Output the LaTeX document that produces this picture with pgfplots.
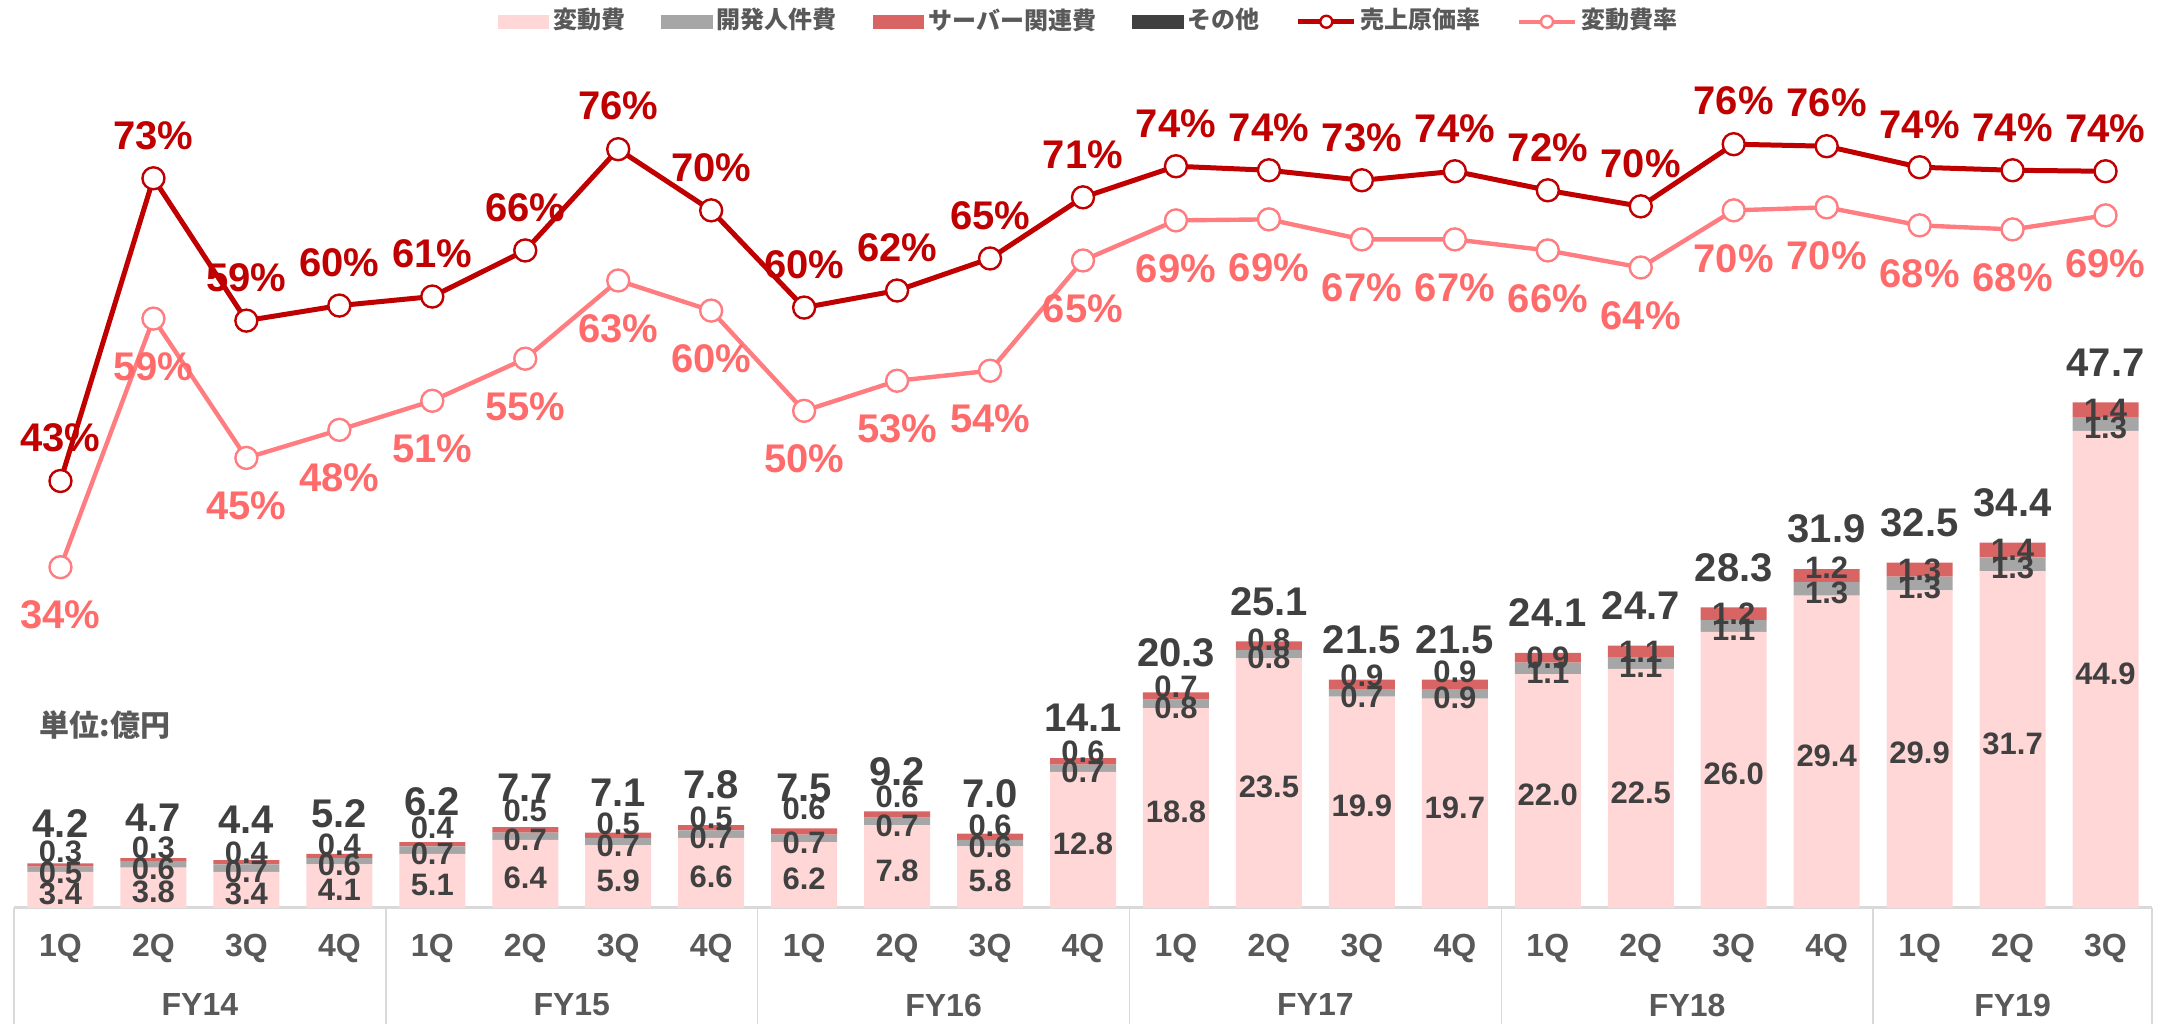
\documentclass[border=0pt]{standalone}
\usepackage{fontspec}
\setmainfont{Liberation Sans}
\newfontfamily\cjk{Noto Sans CJK JP}
\usepackage{pgfplots}
\usepackage{pgfplotstable}
\pgfplotsset{compat=1.18}
\definecolor{cVar}{HTML}{FFD7D7}
\definecolor{cDev}{HTML}{A6A6A6}
\definecolor{cSrv}{HTML}{D96464}
\definecolor{cOth}{HTML}{404040}
\definecolor{cCR}{HTML}{C00000}
\definecolor{cVR}{HTML}{FF7C80}
\definecolor{cVRt}{HTML}{FF6B6B}
\definecolor{cTxt}{HTML}{404040}
\definecolor{cTick}{HTML}{595959}
\definecolor{cGrid}{HTML}{D9D9D9}

% v: 変動費, d: 開発人件費, s: サーバー関連費, o: その他, t: total label, so: label offset (pt) of the s label
\pgfplotstableread{
x v d s o t so
0 3.4 0.5 0.3 0.0 4.2 3.2
1 3.8 0.6 0.3 0.0 4.7 2.9
2 3.4 0.7 0.4 0.0 4.4 2.25
3 4.1 0.6 0.4 0.0 5.2 2.75
4 5.1 0.7 0.4 0.0 6.2 4.0
5 6.4 0.7 0.5 0.0 7.7 4.75
6 5.9 0.7 0.5 0.0 7.1 2.9
7 6.6 0.7 0.5 0.0 7.8 2.5
8 6.2 0.7 0.6 0.0 7.5 5.75
9 7.8 0.7 0.6 0.0 9.2 4.5
10 5.8 0.6 0.6 0.0 7.0 2.75
11 12.8 0.7 0.6 0.0 14.1 2.5
12 18.8 0.8 0.7 0.0 20.3 2.25
13 23.5 0.8 0.8 0.0 25.1 1.5
14 19.9 0.7 0.9 0.0 21.5 2.25
15 19.7 0.9 0.9 0.0 21.5 3.25
16 22.0 1.1 0.9 0.0 24.1 0
17 22.5 1.1 1.1 0.0 24.7 0
18 26.0 1.1 1.2 0.0 28.3 0
19 29.4 1.3 1.2 0.0 31.9 2
20 29.9 1.3 1.3 0.0 32.5 0
21 31.7 1.3 1.4 0.0 34.4 0
22 44.9 1.3 1.4 0.0 47.7 0
}\bars
\pgfplotstablecreatecol[create col/expr={\thisrow{v}/2-0.38}]{mv}\bars
\pgfplotstablecreatecol[create col/expr={\thisrow{v}+\thisrow{d}/2-0.38}]{md}\bars
\pgfplotstablecreatecol[create col/expr={\thisrow{v}+\thisrow{d}+\thisrow{s}/2+\thisrow{so}/2.655}]{ms}\bars
\pgfplotstablecreatecol[create col/expr={\thisrow{v}+\thisrow{d}+\thisrow{s}+\thisrow{o}}]{top}\bars

\pgfplotstableread{
x cr vr
0 42.6 34.0
1 72.8 58.8
2 58.6 44.9
3 60.1 47.7
4 61.0 50.6
5 65.6 54.8
6 75.7 62.6
7 69.6 59.6
8 59.9 49.6
9 61.6 52.6
10 64.8 53.6
11 70.9 64.6
12 74.0 68.6
13 73.6 68.7
14 72.6 66.7
15 73.5 66.7
16 71.6 65.6
17 70.0 63.9
18 76.2 69.6
19 76.0 69.9
20 73.9 68.1
21 73.6 67.7
22 73.5 69.1
}\rates

\pgfplotsset{
  base/.style={width=534.5pt,height=217pt,scale only axis,at={(3.5pt,29pt)},anchor=south west,
    xmin=-0.5,xmax=22.5,clip=false,/pgf/number format/assume math mode=true},
  lineleg/.style={legend image code/.code={\draw[mark repeat=2,mark phase=2,##1,mark size=1.5pt] plot coordinates {(0pt,0pt) (7pt,0pt) (14pt,0pt)};}},
  inlab/.style={draw=none, mark=none, nodes near coords,
    nodes near coords style={anchor=center, font=\bfseries\fontsize{7.75}{9}\selectfont, text=cTxt}},
}

\begin{document}
\begin{tikzpicture}
\path[use as bounding box] (0,0) rectangle (542.5pt,256pt);

% bars
\begin{axis}[base, ybar stacked, bar width=16.5pt, ymin=0, ymax=81.7,
  axis line style={draw=none}, ytick=\empty, xtick={0,...,22},
  xticklabels={1Q,2Q,3Q,4Q,1Q,2Q,3Q,4Q,1Q,2Q,3Q,4Q,1Q,2Q,3Q,4Q,1Q,2Q,3Q,4Q,1Q,2Q,3Q},
  major tick length=0pt,
  xticklabel style={font=\bfseries\fontsize{8}{9}\selectfont, text=cTick, anchor=center, yshift=-10pt}]
\addplot[fill=cVar, draw=none] table[x=x,y=v]{\bars};
\addplot[fill=cDev, draw=none] table[x=x,y=d]{\bars};
\addplot[fill=cSrv, draw=none] table[x=x,y=s]{\bars};
\addplot[fill=cOth, draw=none] table[x=x,y=o]{\bars};
\draw[cGrid, line width=0.75pt] (axis cs:-0.5,0) -- (axis cs:22.5,0);
\pgfplotsinvokeforeach{-0.5,3.5,7.5,11.5,15.5,19.5,22.5}{
  \draw[cGrid, line width=0.4pt] (axis cs:#1,0) -- ([yshift=-29pt]axis cs:#1,0);
}
\node[font=\bfseries\fontsize{8}{9}\selectfont, text=cTick, yshift=-24.25pt] at (axis cs:1.5,0) {FY14};
\node[font=\bfseries\fontsize{8}{9}\selectfont, text=cTick, yshift=-24.25pt] at (axis cs:5.5,0) {FY15};
\node[font=\bfseries\fontsize{8}{9}\selectfont, text=cTick, yshift=-24.25pt] at (axis cs:9.5,0) {FY16};
\node[font=\bfseries\fontsize{8}{9}\selectfont, text=cTick, yshift=-24.25pt] at (axis cs:13.5,0) {FY17};
\node[font=\bfseries\fontsize{8}{9}\selectfont, text=cTick, yshift=-24.25pt] at (axis cs:17.5,0) {FY18};
\node[font=\bfseries\fontsize{8}{9}\selectfont, text=cTick, yshift=-24.25pt] at (axis cs:21,0) {FY19};
\end{axis}

% bar value labels
\begin{axis}[base, ymin=0, ymax=81.7, hide axis, point meta=explicit,
  /pgf/number format/fixed, /pgf/number format/fixed zerofill, /pgf/number format/precision=1]
\addplot[inlab] table[x=x,y=mv,meta=v]{\bars};
\addplot[inlab] table[x=x,y=md,meta=d]{\bars};
\addplot[inlab] table[x=x,y=ms,meta=s]{\bars};
\addplot[draw=none, mark=none, nodes near coords,
  nodes near coords style={anchor=center, yshift=10pt, font=\bfseries\fontsize{10}{12}\selectfont, text=cTxt}]
  table[x=x,y=top,meta=t]{\bars};
\end{axis}

% rate lines
\begin{axis}[base, ymin=0, ymax=86.6, hide axis,
  legend style={at={(0.503,1.021)}, anchor=center, draw=none, fill=none,
    font=\cjk\bfseries\fontsize{6}{7}\selectfont, text=cTick,
    /tikz/every even column/.append style={column sep=8pt}, nodes={inner sep=1pt}},
  legend columns=6, legend cell align=left]
\addlegendimage{legend image code/.code={\fill[cVar] (0pt,-1.6pt) rectangle (12.5pt,1.6pt);}}
\addlegendentry{変動費}
\addlegendimage{legend image code/.code={\fill[cDev] (0pt,-1.6pt) rectangle (12.5pt,1.6pt);}}
\addlegendentry{開発人件費}
\addlegendimage{legend image code/.code={\fill[cSrv] (0pt,-1.6pt) rectangle (12.5pt,1.6pt);}}
\addlegendentry{サーバー関連費}
\addlegendimage{legend image code/.code={\fill[cOth] (0pt,-1.6pt) rectangle (12.5pt,1.6pt);}}
\addlegendentry{その他}
\addplot[lineleg, cCR, line width=1.25pt, mark=*, mark size=2.75pt,
  mark options={fill=white, draw=cCR, line width=0.6pt},
  point meta=y,
  nodes near coords={\pgfmathprintnumber[fixed,precision=0]{\pgfplotspointmeta}\%},
  nodes near coords style={anchor=center, yshift=10.75pt, font=\bfseries\fontsize{10}{12}\selectfont, text=cCR}]
  table[x=x,y=cr]{\rates};
\addlegendentry{売上原価率}
\addplot[lineleg, cVR, line width=1.1pt, mark=*, mark size=2.75pt,
  mark options={fill=white, draw=cVR, line width=0.6pt},
  point meta=y,
  nodes near coords={\pgfmathprintnumber[fixed,precision=0]{\pgfplotspointmeta}\%},
  nodes near coords style={anchor=center, yshift=-12pt, font=\bfseries\fontsize{10}{12}\selectfont, text=cVRt}]
  table[x=x,y=vr]{\rates};
\addlegendentry{変動費率}
\end{axis}

\node[anchor=west, inner sep=0pt, font=\cjk\bfseries\fontsize{7.5}{9}\selectfont, text=cTick] at (9.75pt,74.75pt) {単位:億円};
\end{tikzpicture}
\end{document}
